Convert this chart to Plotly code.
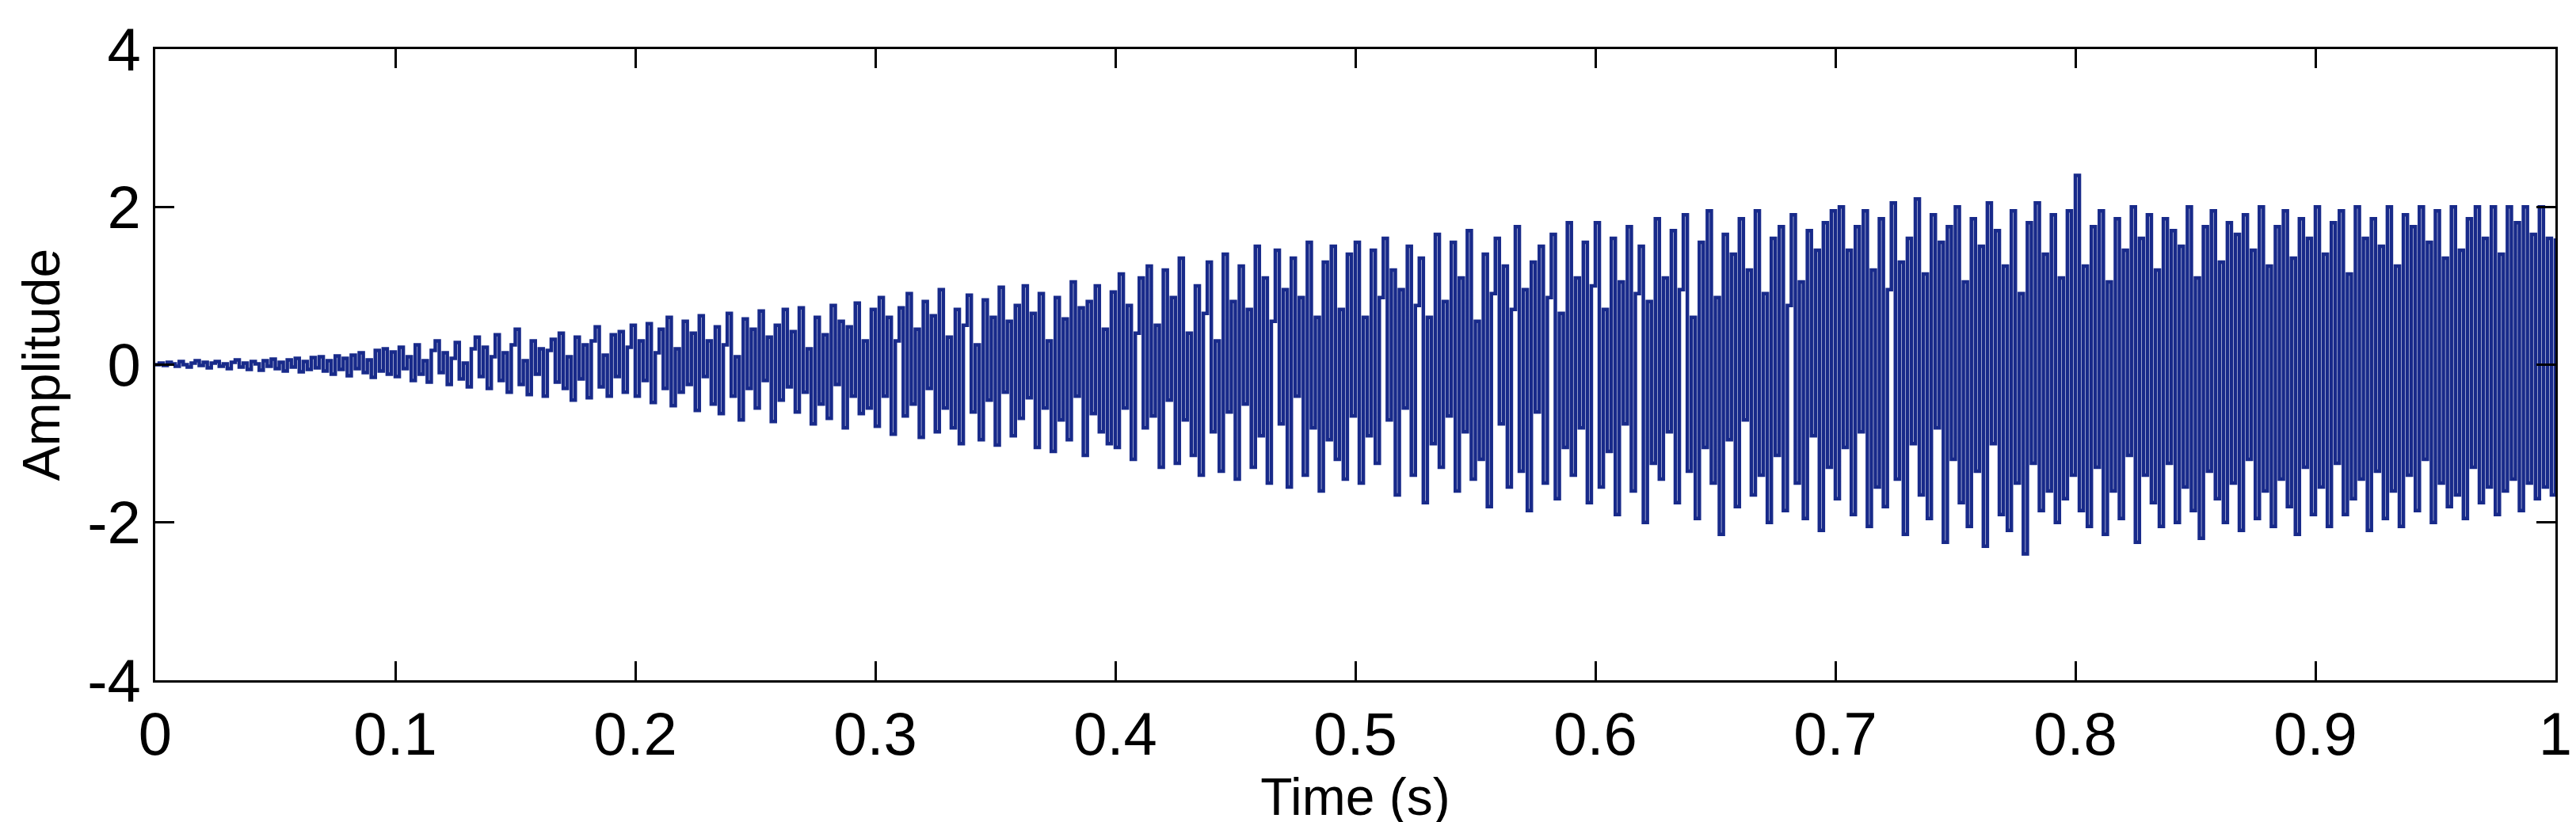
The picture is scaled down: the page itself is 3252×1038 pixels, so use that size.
import plotly.graph_objects as go

# Hand-read amplitude values, 60 samples per 0.1 s segment
seg0 = [0.00, 0.02, -0.01, 0.03, 0.01, -0.02, 0.04, 0.00, -0.03, 0.02, 0.05, -0.01, 0.03, -0.04, 0.02, 0.04, -0.02, 0.01, -0.05, 0.03,
        0.06, -0.03, 0.02, -0.06, 0.04, 0.01, -0.07, 0.05, -0.02, 0.07, -0.05, 0.03, -0.08, 0.06, -0.03, 0.08, -0.09, 0.04, -0.06, 0.09,
        -0.04, 0.10, -0.08, 0.05, -0.12, 0.11, -0.06, 0.08, -0.14, 0.12, -0.05, 0.15, -0.10, 0.06, -0.16, 0.18, -0.08, 0.20, -0.12, 0.16]
seg1 = [-0.15, 0.22, -0.05, 0.10, -0.20, 0.25, -0.12, 0.05, -0.22, 0.18, 0.30, -0.10, 0.15, -0.25, 0.08, 0.28, -0.18, 0.02, -0.28, 0.20,
        0.35, -0.15, 0.22, -0.30, 0.10, 0.38, -0.20, 0.15, -0.35, 0.25, 0.45, -0.25, 0.05, -0.38, 0.30, -0.12, 0.20, -0.40, 0.18, 0.32,
        -0.22, 0.40, -0.30, 0.10, -0.45, 0.35, -0.18, 0.25, -0.42, 0.30, 0.48, -0.28, 0.12, -0.40, 0.38, -0.15, 0.42, -0.35, 0.22, 0.50]
seg2 = [-0.40, 0.30, -0.20, 0.52, -0.48, 0.15, 0.45, -0.30, 0.60, -0.52, 0.20, -0.35, 0.55, -0.25, 0.40, -0.58, 0.62, -0.15, 0.30, -0.50,
        0.48, -0.62, 0.25, 0.65, -0.40, 0.10, -0.70, 0.58, -0.30, 0.45, -0.55, 0.68, -0.20, 0.35, -0.72, 0.50, -0.45, 0.70, -0.28, 0.42,
        -0.60, 0.72, -0.35, 0.20, -0.75, 0.60, -0.50, 0.38, -0.68, 0.75, -0.25, 0.55, -0.80, 0.48, -0.40, 0.78, -0.62, 0.30, -0.55, 0.70]
seg3 = [-0.78, 0.85, -0.40, 0.60, -0.88, 0.30, 0.72, -0.65, 0.90, -0.50, 0.45, -0.92, 0.80, -0.30, 0.62, -0.85, 0.95, -0.55, 0.35, -0.80,
        0.70, -1.00, 0.50, 0.88, -0.60, 0.25, -0.95, 0.82, -0.45, 0.60, -1.02, 0.98, -0.35, 0.55, -0.90, 0.75, -0.68, 1.00, -0.42, 0.65,
        -1.05, 0.90, -0.55, 0.30, -1.10, 0.85, -0.70, 0.58, -0.95, 1.05, -0.40, 0.72, -1.15, 0.80, -0.62, 1.00, -0.85, 0.45, -1.00, 0.92]
seg4 = [-1.05, 1.15, -0.55, 0.75, -1.20, 0.40, 1.10, -0.80, 1.25, -0.65, 0.50, -1.30, 1.20, -0.45, 0.85, -1.25, 1.35, -0.70, 0.40, -1.15,
        1.00, -1.40, 0.65, 1.30, -0.85, 0.30, -1.35, 1.40, -0.60, 0.80, -1.45, 1.25, -0.50, 0.70, -1.30, 1.50, -0.90, 1.10, -1.50, 0.55,
        1.45, -0.75, 0.95, -1.55, 1.35, -0.40, 0.85, -1.40, 1.55, -0.80, 0.60, -1.60, 1.30, -0.95, 1.50, -1.20, 0.70, -1.45, 1.40, -0.65]
seg5 = [1.55, -1.50, 0.60, -0.90, 1.45, -1.25, 0.85, 1.60, -0.70, 1.20, -1.65, 0.95, -0.55, 1.50, -1.40, 0.75, 1.35, -1.75, 0.60, -1.00,
        1.65, -1.30, 0.80, -0.65, 1.55, -1.60, 1.10, -0.85, 1.70, -1.45, 0.55, -1.20, 1.40, -1.80, 0.90, 1.60, -0.75, 1.25, -1.55, 0.70,
        1.75, -1.35, 0.95, -1.85, 1.30, -0.60, 1.50, -1.50, 0.85, 1.65, -1.70, 0.65, -1.05, 1.80, -1.40, 1.10, -0.80, 1.55, -1.75, 1.00]
seg6 = [1.80, -1.55, 0.70, -1.10, 1.60, -1.90, 1.05, -0.75, 1.75, -1.60, 0.90, 1.50, -2.00, 0.80, -1.25, 1.85, -1.45, 1.10, -0.85, 1.70,
        -1.75, 0.95, 1.90, -1.35, 0.60, -1.95, 1.55, -1.05, 1.95, -1.50, 0.85, -2.15, 1.65, -0.95, 1.40, -1.80, 1.85, -0.70, 1.20, -1.65,
        1.95, -1.40, 0.90, -2.00, 1.60, -1.15, 1.75, -1.85, 0.75, 1.90, -1.50, 1.05, -1.95, 1.70, -0.90, 1.45, -2.10, 1.80, -1.30, 1.95]
seg7 = [-1.70, 2.00, -1.05, 1.45, -1.90, 1.75, -0.85, 1.95, -2.05, 1.20, -1.55, 1.85, -1.80, 0.95, 2.05, -1.45, 1.30, -2.15, 1.60, -1.00,
        2.10, -1.65, 1.15, -1.95, 1.90, -0.80, 1.55, -2.25, 1.75, -1.20, 2.00, -1.75, 1.05, -2.05, 1.85, -1.35, 1.50, -2.30, 2.05, -1.00,
        1.70, -1.90, 1.25, -2.10, 1.95, -1.50, 0.90, -2.40, 1.80, -1.25, 2.05, -1.85, 1.40, -1.60, 1.90, -2.00, 1.10, -1.70, 1.95, -1.40]
seg8 = [2.40, -1.85, 1.25, -2.05, 1.75, -1.30, 1.95, -2.15, 1.05, -1.60, 1.85, -1.95, 1.45, -1.15, 2.00, -2.25, 1.60, -1.40, 1.90, -1.75,
        1.20, -2.05, 1.85, -1.25, 1.70, -2.00, 1.50, -1.55, 2.00, -1.85, 1.10, -2.20, 1.75, -1.35, 1.95, -1.70, 1.30, -2.00, 1.80, -1.50,
        1.65, -2.10, 1.90, -1.20, 1.45, -1.95, 2.00, -1.60, 1.25, -2.05, 1.75, -1.45, 1.95, -1.80, 1.35, -2.15, 1.85, -1.30, 1.60, -1.90]
seg9 = [2.00, -1.55, 1.40, -2.05, 1.80, -1.25, 1.95, -1.90, 1.15, -1.70, 2.00, -1.45, 1.60, -2.10, 1.85, -1.35, 1.50, -1.95, 2.00, -1.60,
        1.25, -2.05, 1.90, -1.40, 1.75, -1.85, 2.00, -1.20, 1.55, -2.00, 1.95, -1.50, 1.35, -1.80, 2.00, -1.65, 1.45, -1.95, 1.85, -1.30,
        2.00, -1.75, 1.60, -1.55, 2.00, -1.90, 1.40, -1.60, 2.00, -1.45, 1.80, -1.85, 2.00, -1.50, 1.65, -1.70, 2.00, -1.55, 1.60, -1.65, 1.60]

amplitude = seg0 + seg1 + seg2 + seg3 + seg4 + seg5 + seg6 + seg7 + seg8 + seg9
n = len(amplitude)
time = [i / (n - 1) for i in range(n)]

fig = go.Figure(go.Scatter(x=time, y=amplitude, mode="lines", line_shape="hv",
                           line=dict(color="#182a8a", width=4.5)))

axis_common = dict(showline=True, linecolor="black", linewidth=3, mirror="ticks",
                   ticks="inside", ticklen=24, tickwidth=3, tickcolor="black",
                   showgrid=False, zeroline=False, ticklabeloverflow="allow",
                   tickfont=dict(family="Liberation Sans", size=76, color="black"))
fig.update_xaxes(range=[0, 1], tickvals=[i / 10 for i in range(11)],
                 ticktext=["0", "0.1", "0.2", "0.3", "0.4", "0.5", "0.6", "0.7", "0.8", "0.9", "1"],
                 title=dict(text="Time (s)", font=dict(family="Liberation Sans", size=66, color="black"), standoff=0),
                 **axis_common)
fig.update_yaxes(range=[-4, 4], tickvals=[-4, -2, 0, 2, 4], ticktext=["-4", "-2", "0", "2", "4"],
                 title=dict(text="Amplitude", font=dict(family="Liberation Sans", size=66, color="black"), standoff=14),
                 **axis_common)
fig.update_layout(width=3252, height=1038, plot_bgcolor="white", paper_bgcolor="white",
                  margin=dict(l=188, r=34, t=42, b=187), showlegend=False)
fig.write_html("out.html")
